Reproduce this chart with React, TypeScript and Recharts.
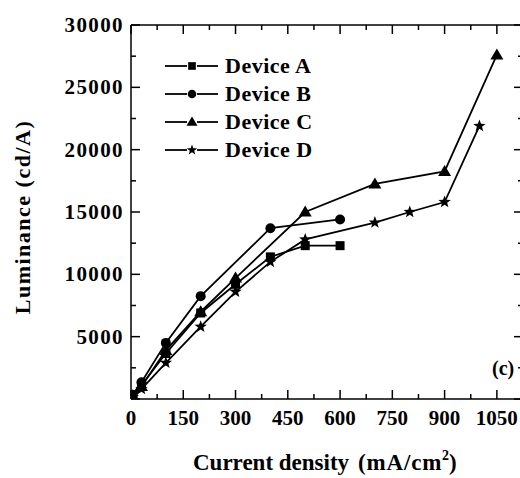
import React from 'react';
import { LineChart, Line, XAxis, YAxis, Legend } from 'recharts';

// ---------- data ----------
const deviceAX = [5, 30, 100, 200, 300, 400, 500, 600];
const deviceAY = [300, 1100, 3650, 6900, 9200, 11400, 12300, 12300];

const deviceBX = [5, 30, 100, 200, 400, 600];
const deviceBY = [350, 1350, 4500, 8250, 13700, 14400];

const deviceCX = [5, 30, 100, 200, 300, 500, 700, 900, 1050];
const deviceCY = [250, 1000, 3900, 7000, 9700, 15000, 17250, 18250, 27600];

const deviceDX = [5, 30, 100, 200, 300, 400, 500, 700, 800, 900, 1000];
const deviceDY = [150, 800, 2900, 5800, 8600, 11000, 12800, 14150, 15000, 15800, 21900];

const seriesNames = ['Device A', 'Device B', 'Device C', 'Device D'];
const markerKinds = ['square', 'circle', 'triangle', 'star'];

const xTickValues = [0, 75, 150, 225, 300, 375, 450, 525, 600, 675, 750, 825, 900, 975, 1050];
const xLabelStep = 150;
const xDomain = [0, 1125];

const yTickValues = [0, 2500, 5000, 7500, 10000, 12500, 15000, 17500, 20000, 22500, 25000, 27500, 30000];
const yLabelStep = 5000;
const yDomain = [0, 30000];

const xTitleMain = 'Current density';
const xTitleUnit = '(mA/cm';
const xTitleSup = '2';
const yTitle = 'Luminance (cd/A)';
const panelTag = '(c)';

const toRows = (xs: number[], ys: number[]) => xs.map((x, i) => ({ x, y: ys[i] }));
const seriesData = [
  toRows(deviceAX, deviceAY),
  toRows(deviceBX, deviceBY),
  toRows(deviceCX, deviceCY),
  toRows(deviceDX, deviceDY),
];

const FONT = '"Liberation Serif", "Times New Roman", serif';

// ---------- markers ----------
function Marker({ kind, cx, cy, s = 1 }: { kind: string; cx: number; cy: number; s?: number }) {
  if (kind === 'square') {
    const h = 4.5 * s;
    return <rect x={cx - h} y={cy - h} width={2 * h} height={2 * h} fill="#000" />;
  }
  if (kind === 'circle') {
    return <circle cx={cx} cy={cy} r={5 * s} fill="#000" />;
  }
  if (kind === 'triangle') {
    return (
      <polygon
        points={`${cx},${cy - 6.5 * s} ${cx - 6.5 * s},${cy + 4.5 * s} ${cx + 6.5 * s},${cy + 4.5 * s}`}
        fill="#000"
      />
    );
  }
  const pts: string[] = [];
  for (let i = 0; i < 10; i++) {
    const r = (i % 2 === 0 ? 6.5 : 2.7) * s;
    const a = -Math.PI / 2 + (i * Math.PI) / 5;
    pts.push(`${cx + r * Math.cos(a)},${cy + r * Math.sin(a)}`);
  }
  return <polygon points={pts.join(' ')} fill="#000" />;
}

const makeDot = (kind: string) => (props: any) => {
  const { cx, cy, index } = props;
  if (cx == null || cy == null) return <g key={`d-${kind}-${index}`} />;
  return (
    <g key={`d-${kind}-${index}`}>
      <Marker kind={kind} cx={cx} cy={cy} />
    </g>
  );
};

// ---------- ticks ----------
const BottomTick = (props: any) => {
  const { x, y, payload } = props;
  const v = payload.value;
  const major = v % xLabelStep === 0;
  return (
    <g>
      <line x1={x} y1={y} x2={x} y2={y - (major ? 9 : 5)} stroke="#000" strokeWidth={1.5} />
      {major && (
        <text
          x={x}
          y={y + 26}
          textAnchor="middle"
          fontSize={21}
          fontWeight="bold"
          fontFamily={FONT}
          fill="#000"
        >
          {v}
        </text>
      )}
    </g>
  );
};

const TopTick = (props: any) => {
  const { x, y, payload } = props;
  const major = payload.value % xLabelStep === 0;
  return <line x1={x} y1={y} x2={x} y2={y + (major ? 9 : 5)} stroke="#000" strokeWidth={1.5} />;
};

const LeftTick = (props: any) => {
  const { x, y, payload } = props;
  const v = payload.value;
  const major = v % yLabelStep === 0;
  return (
    <g>
      <line x1={x} y1={y} x2={x + (major ? 9 : 5)} y2={y} stroke="#000" strokeWidth={1.5} />
      {major && v !== 0 && (
        <text
          x={x - 7}
          y={y + 7}
          textAnchor="end"
          fontSize={21}
          fontWeight="bold"
          letterSpacing={1.4}
          fontFamily={FONT}
          fill="#000"
        >
          {v}
        </text>
      )}
    </g>
  );
};

const RightTick = (props: any) => {
  const { x, y, payload } = props;
  const major = payload.value % yLabelStep === 0;
  return <line x1={x} y1={y} x2={x - (major ? 9 : 5)} y2={y} stroke="#000" strokeWidth={1.5} />;
};

// ---------- axis titles ----------
const XTitle = (props: any) => {
  const vb = props.viewBox || {};
  return (
    <text
      x={vb.x + 62}
      y={vb.y + 71}
      textAnchor="start"
      fontSize={23}
      fontWeight="bold"
      fontFamily={FONT}
      fill="#000"
    >
      {xTitleMain}
      <tspan dx={9} letterSpacing={0.8}>{xTitleUnit}</tspan>
      <tspan fontSize={14} dy={-10}>{xTitleSup}</tspan>
      <tspan dy={10}>)</tspan>
    </text>
  );
};

const YTitle = (props: any) => {
  const vb = props.viewBox || {};
  const cx = vb.x + 22;
  const cy = vb.y + vb.height / 2 + 5;
  return (
    <text
      x={cx}
      y={cy}
      transform={`rotate(-90 ${cx} ${cy})`}
      textAnchor="middle"
      dominantBaseline="central"
      fontSize={22}
      fontWeight="bold"
      letterSpacing={1.5}
      fontFamily={FONT}
      fill="#000"
    >
      {yTitle}
    </text>
  );
};

// ---------- legend ----------
const renderLegend = (props: any) => {
  const payload = (props.payload || []).filter((e: any) => seriesNames.includes(e.value));
  return (
    <div style={{ fontFamily: FONT }}>
      {payload.map((entry: any, i: number) => (
        <div key={`lg-${i}`} style={{ display: 'flex', alignItems: 'center', height: 28 }}>
          <svg width={60} height={28} style={{ display: 'block' }}>
            <line x1={0} y1={14} x2={22} y2={14} stroke="#000" strokeWidth={1.8} />
            <line x1={32} y1={14} x2={53} y2={14} stroke="#000" strokeWidth={1.8} />
            <Marker kind={markerKinds[seriesNames.indexOf(entry.value)]} cx={27} cy={14} s={0.85} />
          </svg>
          <span
            style={{
              fontSize: 22,
              fontWeight: 'bold',
              letterSpacing: 0.5,
              color: '#000',
              lineHeight: '28px',
            }}
          >
            {entry.value}
          </span>
        </div>
      ))}
    </div>
  );
};

export default function App() {
  return (
    <div
      style={{
        position: 'absolute',
        left: 0,
        top: 0,
        width: 520,
        height: 478,
        overflow: 'hidden',
        background: '#fff',
      }}
    >
      <LineChart
        width={530}
        height={478}
        margin={{ top: 24, right: 6, bottom: 0, left: 0 }}
        style={{ background: '#fff' }}
      >
        <XAxis
          xAxisId="bottom"
          dataKey="x"
          type="number"
          domain={xDomain}
          ticks={xTickValues}
          interval={0}
          allowDataOverflow
          height={79}
          tickSize={0}
          tickMargin={0}
          tickLine={false}
          axisLine={{ stroke: '#000', strokeWidth: 1.5 }}
          tick={<BottomTick />}
          label={{ content: (p: any) => <XTitle {...p} /> }}
        />
        <XAxis
          xAxisId="top"
          orientation="top"
          dataKey="x"
          type="number"
          domain={xDomain}
          ticks={xTickValues}
          interval={0}
          allowDataOverflow
          height={1}
          tickSize={0}
          tickMargin={0}
          tickLine={false}
          axisLine={{ stroke: '#000', strokeWidth: 1.5 }}
          tick={<TopTick />}
        />
        <YAxis
          yAxisId="left"
          type="number"
          domain={yDomain}
          ticks={yTickValues}
          interval={0}
          allowDataOverflow
          width={131}
          tickSize={0}
          tickMargin={0}
          tickLine={false}
          axisLine={{ stroke: '#000', strokeWidth: 1.5 }}
          tick={<LeftTick />}
          label={{ content: (p: any) => <YTitle {...p} /> }}
        />
        <YAxis
          yAxisId="right"
          orientation="right"
          type="number"
          domain={yDomain}
          ticks={yTickValues}
          interval={0}
          allowDataOverflow
          width={1}
          tickSize={0}
          tickMargin={0}
          tickLine={false}
          axisLine={{ stroke: '#000', strokeWidth: 1.5 }}
          tick={<RightTick />}
        />
        <Legend
          layout="vertical"
          align="center"
          verticalAlign="middle"
          content={renderLegend}
          wrapperStyle={{ position: 'absolute', left: 165, top: 52, width: 200, height: 112 }}
        />
        {seriesData.map((data, i) => (
          <Line
            key={seriesNames[i]}
            name={seriesNames[i]}
            data={data}
            dataKey="y"
            xAxisId="bottom"
            yAxisId="left"
            type="linear"
            stroke="#000"
            strokeWidth={1.8}
            dot={makeDot(markerKinds[i])}
            activeDot={false}
            isAnimationActive={false}
          />
        ))}
        <Line
          key="frame-helper"
          name="frame"
          data={seriesData[2]}
          dataKey="y"
          xAxisId="top"
          yAxisId="right"
          stroke="none"
          dot={false}
          activeDot={false}
          legendType="none"
          isAnimationActive={false}
        />
      </LineChart>
      <div
        style={{
          position: 'absolute',
          left: 492,
          top: 355,
          fontFamily: FONT,
          fontWeight: 'bold',
          fontSize: 20,
          color: '#000',
          lineHeight: '26px',
        }}
      >
        {panelTag}
      </div>
    </div>
  );
}
